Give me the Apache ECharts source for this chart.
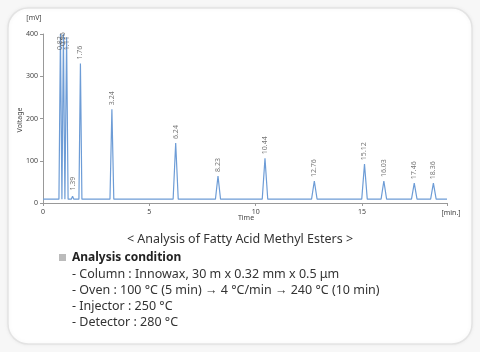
<!DOCTYPE html>
<html>
<head>
<meta charset="utf-8">
<script src="https://cdn.jsdelivr.net/npm/echarts@6/dist/echarts.min.js"></script>
<style>
  html, body { margin: 0; padding: 0; background: #f7f7f7; }
  #chart { width: 480px; height: 352px; }
</style>
</head>
<body>
<div id="chart"></div>
<script>
// peaks (time in min, height in mV)
const peakTimes = [0.82, 0.96, 1.11, 1.39, 1.76, 3.24, 6.24, 8.23, 10.44, 12.76, 15.12, 16.03, 17.46, 18.36]
const peakLabels = ['0.82', '0.96', '1.11', '1.39', '1.76', '3.24', '6.24', '8.23', '10.44', '12.76', '15.12', '16.03', '17.46', '18.36']
const peakHeights = [400, 400, 392, 16, 330, 222, 142, 64, 106, 52, 92, 52, 47, 47]
const peakHalfWidths = [0.07, 0.07, 0.07, 0.06, 0.07, 0.09, 0.12, 0.12, 0.13, 0.13, 0.13, 0.13, 0.13, 0.13]
// where each retention-time label starts (mV), the tall ones are clipped
const labelLevels = [362, 362, 345, 20, 330, 222, 142, 64, 106, 52, 92, 52, 47, 47]
const baseLevel = 9
const runEnd = 19
const yTicks = [0, 100, 200, 300, 400]

const trace = [[0, baseLevel]]
peakTimes.forEach((t, i) => {
  trace.push([t - peakHalfWidths[i], baseLevel], [t, peakHeights[i]], [t + peakHalfWidths[i], baseLevel])
})
trace.push([runEnd, baseLevel])

// the first labels sit too close together, nudge them apart (px)
const labelNudge = { '0.82': -4, '1.11': 3 }

const font = 'Noto Sans'
const chart = echarts.init(document.getElementById('chart'))

const conditions = [
  '- Column : Innowax, 30 m x 0.32 mm x 0.5 μm',
  '- Oven : 100 °C (5 min) → 4 °C/min → 240 °C (10 min)',
  '- Injector : 250 °C',
  '- Detector : 280 °C'
]

chart.setOption({
  backgroundColor: 'transparent',
  animation: false,
  textStyle: { fontFamily: font },
  grid: { left: 43, right: 33, top: 34, bottom: 149 },
  xAxis: {
    type: 'value',
    min: 0,
    max: runEnd,
    interval: 5,
    axisLine: { lineStyle: { color: '#999' } },
    axisTick: { length: 3, lineStyle: { color: '#999' } },
    splitLine: { show: false },
    axisLabel: {
      fontSize: 7,
      color: '#444',
      margin: 5,
      formatter: v => (v % 5 === 0 ? String(v) : '')
    }
  },
  yAxis: {
    type: 'value',
    min: yTicks[0],
    max: yTicks[yTicks.length - 1],
    interval: 100,
    axisLine: { show: true, lineStyle: { color: '#999' } },
    axisTick: { show: true, length: 3, lineStyle: { color: '#999' } },
    splitLine: { show: false },
    axisLabel: { fontSize: 7, color: '#444', margin: 5 }
  },
  series: [
    {
      type: 'line',
      data: trace,
      symbol: 'none',
      clip: true,
      lineStyle: { color: '#6d9cd6', width: 1.2 },
      z: 3
    },
    {
      type: 'scatter',
      data: peakTimes.map((t, i) => ({
        value: [t, labelLevels[i], peakLabels[i]],
        label: { offset: [labelNudge[peakLabels[i]] || 0, 0] }
      })),
      symbolSize: 0,
      silent: true,
      label: {
        show: true,
        position: 'top',
        distance: 4,
        rotate: 90,
        align: 'left',
        verticalAlign: 'middle',
        fontSize: 7,
        color: '#555',
        formatter: p => p.value[2]
      },
      z: 4
    }
  ],
  graphic: [
    {
      type: 'rect',
      z: -10,
      shape: { x: 8, y: 8, width: 464, height: 336, r: 20 },
      style: { fill: '#fff', stroke: '#e3e3e3', lineWidth: 1.5, shadowBlur: 4, shadowColor: 'rgba(0,0,0,0.06)' }
    },
    { type: 'text', x: 34, y: 18, style: { text: '[mV]', font: '7px ' + font, fill: '#444', align: 'center', verticalAlign: 'middle' } },
    { type: 'text', x: 20, y: 120, rotation: Math.PI / 2, style: { text: 'Voltage', font: '7px ' + font, fill: '#444', align: 'center', verticalAlign: 'middle' } },
    { type: 'text', x: 246, y: 218, style: { text: 'Time', font: '7px ' + font, fill: '#444', align: 'center', verticalAlign: 'middle' } },
    { type: 'text', x: 451, y: 213, style: { text: '[min.]', font: '7px ' + font, fill: '#444', align: 'center', verticalAlign: 'middle' } },
    { type: 'text', x: 240, y: 239, style: { text: '< Analysis of Fatty Acid Methyl Esters >', font: '12.5px ' + font, fill: '#333', align: 'center', verticalAlign: 'middle' } },
    { type: 'rect', shape: { x: 59, y: 254, width: 7, height: 7 }, style: { fill: '#bbb' } },
    { type: 'text', x: 72, y: 258, style: { text: 'Analysis condition', font: 'bold 12px ' + font, fill: '#222', verticalAlign: 'middle' } }
  ].concat(conditions.map((line, i) => ({
    type: 'text',
    x: 72,
    y: 274 + i * 16.3,
    style: { text: line, font: '12.5px ' + font, fill: '#333', verticalAlign: 'middle' }
  })))
})
</script>
</body>
</html>
